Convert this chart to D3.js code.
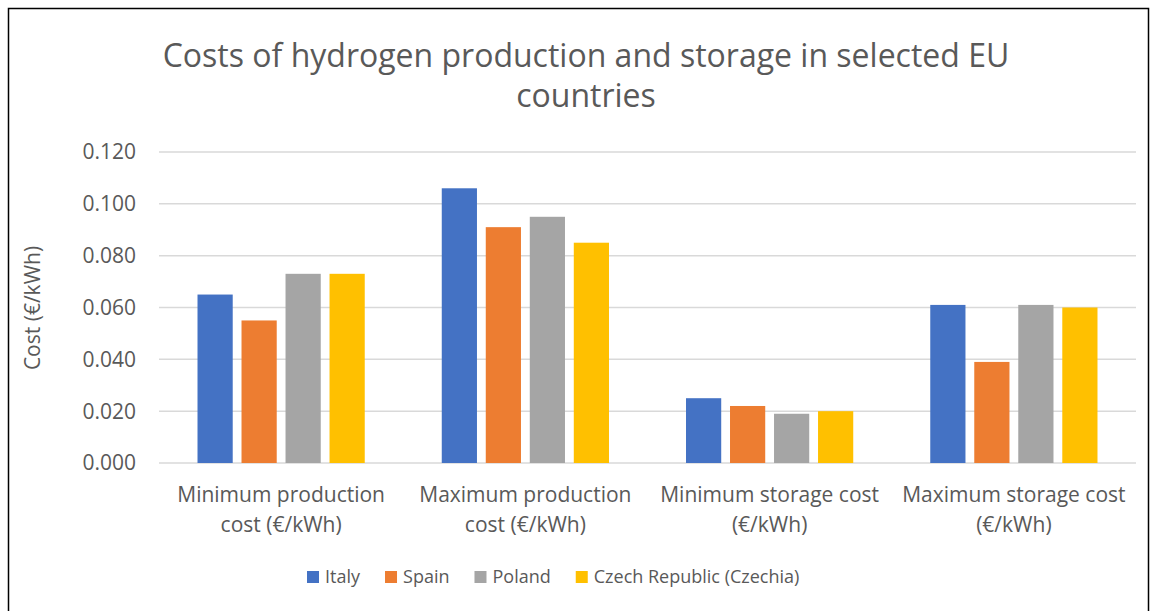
<!DOCTYPE html>
<html>
<head>
<meta charset="utf-8">
<script src="https://d3js.org/d3.v7.min.js"></script>
<style>
  body { margin: 0; background: #fff; }
  text { font-family: "Open Sans", "Noto Sans", sans-serif; fill: #595959; }
</style>
</head>
<body>
<svg id="chart" width="1157" height="611"></svg>
<script>
// data
const categories = [
  ["Minimum production", "cost (€/kWh)"],
  ["Maximum production", "cost (€/kWh)"],
  ["Minimum storage cost", "(€/kWh)"],
  ["Maximum storage cost", "(€/kWh)"]
];
const countries = ["Italy", "Spain", "Poland", "Czech Republic (Czechia)"];
const italy  = [0.065, 0.106, 0.025, 0.061];
const spain  = [0.055, 0.091, 0.022, 0.039];
const poland = [0.073, 0.095, 0.019, 0.061];
const czech  = [0.073, 0.085, 0.020, 0.060];
const yTicks = [0, 0.02, 0.04, 0.06, 0.08, 0.10, 0.12];
const colors = ["#4472C4", "#ED7D31", "#A5A5A5", "#FFC000"];

const series = [italy, spain, poland, czech];

const svg = d3.select("#chart");

// chart frame
svg.append("rect")
  .attr("x", 8.5).attr("y", 8.5)
  .attr("width", 1140).attr("height", 620)
  .attr("fill", "none").attr("stroke", "black").attr("stroke-width", 1.5);

const plot = { left: 159, right: 1136, top: 152, bottom: 463 };

const y = d3.scaleLinear().domain([0, 0.12]).range([plot.bottom, plot.top]);
const x0 = d3.scaleBand().domain(d3.range(categories.length))
  .range([plot.left, plot.right]).padding(0);
const x1 = d3.scaleBand().domain(d3.range(countries.length))
  .range([0, x0.bandwidth()]).paddingInner(0.2).paddingOuter(0.875);

// gridlines
svg.append("g").selectAll("line").data(yTicks).join("line")
  .attr("x1", plot.left).attr("x2", plot.right)
  .attr("y1", d => y(d)).attr("y2", d => y(d))
  .attr("stroke", "#d9d9d9").attr("stroke-width", 1.5);

// y tick labels
const fmt = d3.format(".3f");
svg.append("g").selectAll("text").data(yTicks).join("text")
  .attr("x", 136).attr("y", d => y(d))
  .attr("dy", "0.35em")
  .attr("text-anchor", "end")
  .style("font-size", "21px")
  .text(d => fmt(d));

// bars
const groups = svg.append("g").selectAll("g").data(series).join("g")
  .attr("fill", (d, i) => colors[i]);
groups.each(function (vals, si) {
  d3.select(this).selectAll("rect").data(vals).join("rect")
    .attr("x", (v, ci) => x0(ci) + x1(si))
    .attr("width", x1.bandwidth())
    .attr("y", v => y(v))
    .attr("height", v => y(0) - y(v));
});

// category labels
const cat = svg.append("g").selectAll("text").data(categories).join("text")
  .attr("text-anchor", "middle")
  .style("font-size", "21px");
cat.each(function (lines, i) {
  const cx = x0(i) + x0.bandwidth() / 2;
  d3.select(this).selectAll("tspan").data(lines).join("tspan")
    .attr("x", cx)
    .attr("y", (l, j) => 502 + j * 30)
    .text(l => l);
});

// y axis title
svg.append("text")
  .attr("transform", "translate(40,308) rotate(-90)")
  .attr("text-anchor", "middle")
  .style("font-size", "21px")
  .text("Cost (€/kWh)");

// chart title
svg.append("text")
  .attr("text-anchor", "middle")
  .style("font-size", "32px")
  .selectAll("tspan")
  .data(["Costs of hydrogen production and storage in selected EU", "countries"])
  .join("tspan")
  .attr("x", 586)
  .attr("y", (d, i) => 67 + i * 40)
  .text(d => d);

// legend
const legend = svg.append("g");
let lx = 307;
countries.forEach((name, i) => {
  legend.append("rect")
    .attr("x", lx).attr("y", 571)
    .attr("width", 12).attr("height", 12)
    .attr("fill", colors[i]);
  const t = legend.append("text")
    .attr("x", lx + 18).attr("y", 577)
    .attr("dy", "0.35em")
    .style("font-size", "18px")
    .text(name);
  lx += 18 + t.node().getComputedTextLength() + 25;
});
</script>
</body>
</html>
